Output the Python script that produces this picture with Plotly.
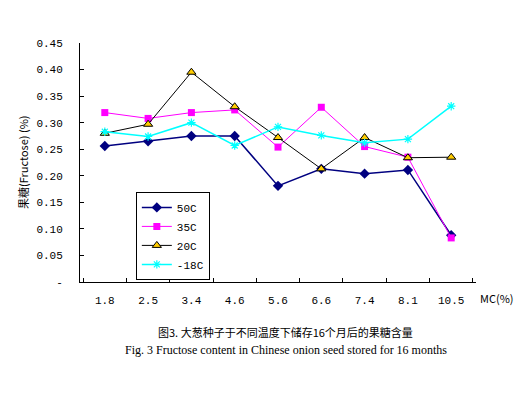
import plotly.graph_objects as go

categories = ["1.8", "2.5", "3.4", "4.6", "5.6", "6.6", "7.4", "8.1", "10.5"]
s50 = [0.256, 0.265, 0.275, 0.275, 0.181, 0.213, 0.204, 0.211, 0.088]
s35 = [0.319, 0.308, 0.319, 0.324, 0.254, 0.329, 0.255, 0.235, 0.083]
s20 = [0.280, 0.297, 0.395, 0.330, 0.272, 0.213, 0.272, 0.234, 0.235]
s_18 = [0.283, 0.274, 0.300, 0.257, 0.292, 0.276, 0.262, 0.269, 0.331]
names = ["50C", "35C", "20C", "-18C"]
yticks = [0, 0.05, 0.10, 0.15, 0.20, 0.25, 0.30, 0.35, 0.40, 0.45]
yticktext = ["-", "0.05", "0.10", "0.15", "0.20", "0.25", "0.30", "0.35", "0.40", "0.45"]

mono = "Liberation Mono, DejaVu Sans Mono, monospace"
cjk = "Noto Sans CJK SC, sans-serif"

fig = go.Figure()
fig.add_trace(go.Scatter(x=categories, y=s50, name=names[0], mode="lines+markers",
                         line=dict(color="#000080", width=1.5),
                         marker=dict(symbol="diamond", size=8, color="#000080")))
fig.add_trace(go.Scatter(x=categories, y=s35, name=names[1], mode="lines+markers",
                         line=dict(color="#FF00FF", width=1),
                         marker=dict(symbol="square", size=7, color="#FF00FF")))
fig.add_trace(go.Scatter(x=categories, y=s20, name=names[2], mode="lines+markers",
                         line=dict(color="#000000", width=1),
                         marker=dict(symbol="triangle-up", size=8, color="#FFCC00",
                                     line=dict(color="#000000", width=1))))
fig.add_trace(go.Scatter(x=categories, y=s_18, name=names[3], mode="lines+markers",
                         line=dict(color="#00FFFF", width=1.5),
                         marker=dict(symbol="asterisk-open", size=7,
                                     line=dict(color="#00FFFF", width=1.2))))

fig.update_layout(
    width=528, height=395,
    margin=dict(l=72, r=60, t=35, b=121),
    paper_bgcolor="white", plot_bgcolor="white",
    font=dict(family=mono, size=11, color="black"),
    showlegend=True,
    legend=dict(x=0.141, y=0.377, xanchor="left", yanchor="top",
                bordercolor="black", borderwidth=1, bgcolor="white",
                font=dict(family=mono, size=11), tracegroupgap=0,
                itemwidth=30),
    xaxis=dict(type="category", showline=True, linecolor="black", linewidth=1,
               ticks="inside", ticklen=4, tickcolor="black", tickson="boundaries",
               showgrid=False, zeroline=False, ticklabelstandoff=8,
               tickfont=dict(family=mono, size=11)),
    yaxis=dict(range=[0, 0.45], tickvals=yticks, ticktext=yticktext,
               showline=True, linecolor="black", linewidth=1,
               ticks="inside", ticklen=4, tickcolor="black",
               showgrid=False, zeroline=False, ticklabelstandoff=14,
               tickfont=dict(family=mono, size=11)),
    annotations=[
        dict(text="MC(%)", x=1.005, y=-0.067, xref="paper", yref="paper",
             xanchor="left", yanchor="middle", showarrow=False,
             font=dict(family=cjk, size=11)),
        dict(text="果糖(Fructose) (%)", x=-0.145, y=0.5, xref="paper", yref="paper",
             textangle=-90, xanchor="center", yanchor="middle", showarrow=False,
             font=dict(family=cjk, size=11)),
        dict(text="图3. 大葱种子于不同温度下储存16个月后的果糖含量", x=0.52, y=-0.208,
             xref="paper", yref="paper", xanchor="center", yanchor="middle",
             showarrow=False, font=dict(family=cjk, size=11)),
        dict(text="Fig. 3 Fructose content in Chinese onion seed stored for 16 months",
             x=0.52, y=-0.284, xref="paper", yref="paper", xanchor="center",
             yanchor="middle", showarrow=False,
             font=dict(family="Liberation Serif, Times New Roman, serif", size=12)),
    ],
)

fig.write_html("out.html")
